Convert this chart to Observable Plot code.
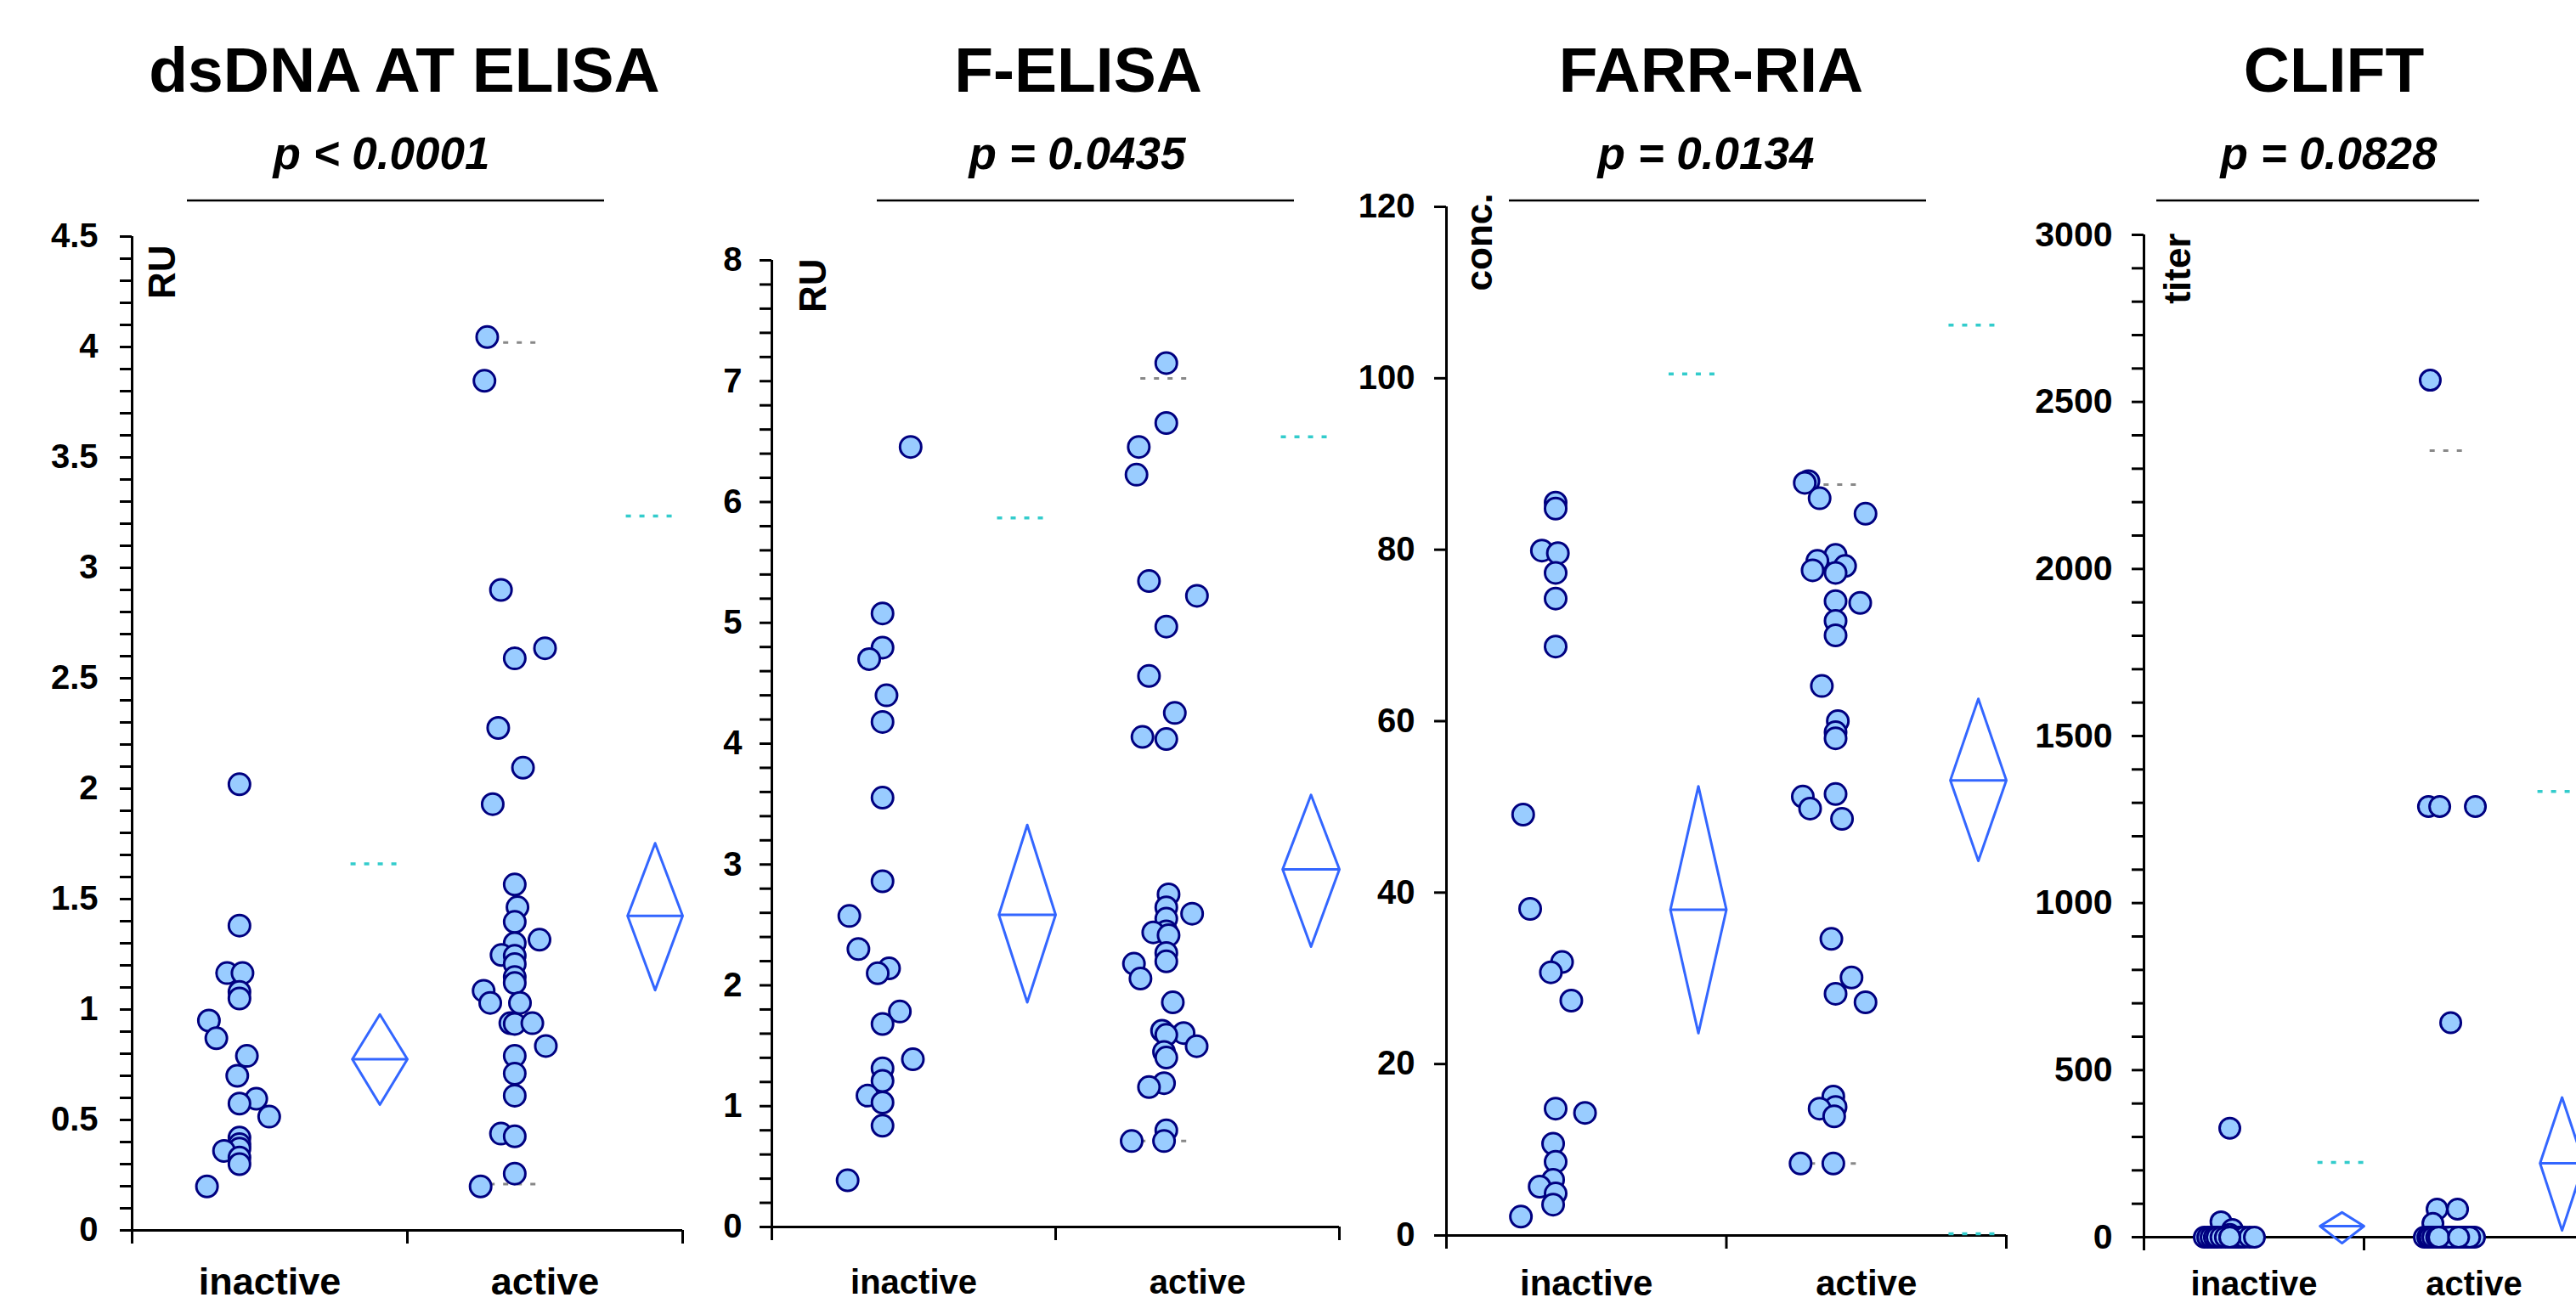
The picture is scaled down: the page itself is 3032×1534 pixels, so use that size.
<!DOCTYPE html>
<html>
<head>
<meta charset="utf-8">
<script src="https://cdn.jsdelivr.net/npm/d3@7"></script>
<script src="https://cdn.jsdelivr.net/npm/@observablehq/plot@0.6"></script>
<style>
html, body { margin: 0; padding: 0; background: #fff; }
body { width: 3032px; height: 1534px; overflow: hidden; position: relative;
       font-family: "Liberation Sans", Arial, Helvetica, sans-serif; }
.panel { position: absolute; top: 0; height: 1534px; }
#overlay { position: absolute; left: 0; top: 0; pointer-events: none; }
</style>
</head>
<body>
<script>
// ---------------- DATA ----------------
const groups = ["inactive", "active"];

const titles = ["dsDNA AT ELISA", "F-ELISA", "FARR-RIA", "CLIFT"];
const pValues = ["p < 0.0001", "p = 0.0435", "p = 0.0134", "p = 0.0828"];
const units = ["RU", "RU", "conc.", "titer"];
const yMax = [4.5, 8, 120, 3000];
const yMajorStep = [0.5, 1, 20, 500];
const yMinorStep = [0.1, 0.2, null, 100];

// dsDNA AT ELISA
const dsdnaInactive = [2.02, 1.38, 1.165, 1.165, 1.08, 1.05, 0.95, 0.87, 0.79, 0.70, 0.596, 0.574, 0.515, 0.42, 0.39, 0.37, 0.36, 0.33, 0.30, 0.199];
const dsdnaInactiveJitter = [0, 0, -0.045, 0.011, 0, 0, -0.111, -0.084, 0.027, -0.008, 0.061, 0, 0.108, 0, 0, 0, -0.056, 0, 0, -0.118];
const dsdnaActive = [4.045, 3.847, 2.90, 2.636, 2.59, 2.275, 2.095, 1.93, 1.566, 1.463, 1.397, 1.316, 1.30, 1.247, 1.243, 1.206, 1.147, 1.12, 1.085, 1.03, 1.03, 0.938, 0.935, 0.938, 0.835, 0.79, 0.71, 0.61, 0.438, 0.426, 0.257, 0.199];
const dsdnaActiveJitter = [-0.10, -0.11, -0.05, 0.11, 0, -0.06, 0.03, -0.08, 0, 0.01, 0, 0.09, 0, -0.048, 0, 0, 0, 0, -0.113, 0.019, -0.089, -0.016, 0, 0.064, 0.113, 0, 0, 0, -0.05, 0, 0, -0.124];
const dsdnaDiamond = [[0.569, 0.775, 0.978], [1.088, 1.424, 1.753]]; // [lower, mean, upper]
const dsdnaCyan = [[1.66], [3.235]];
const dsdnaGray = [[], [4.02, 0.21]];

// F-ELISA
const felisaInactive = [6.456, 5.078, 4.795, 4.70, 4.40, 4.18, 3.553, 2.861, 2.574, 2.30, 2.14, 2.10, 1.783, 1.68, 1.388, 1.313, 1.209, 1.087, 1.03, 0.838, 0.386];
const felisaInactiveJitter = [0.099, 0, 0, -0.047, 0.014, 0, 0, 0, -0.117, -0.085, 0.023, -0.017, 0.061, 0, 0.107, 0, 0, -0.053, 0, 0, -0.123];
const felisaActive = [7.15, 6.654, 6.456, 6.226, 5.346, 5.224, 4.969, 4.56, 4.254, 4.056, 4.038, 2.753, 2.645, 2.593, 2.551, 2.447, 2.438, 2.414, 2.268, 2.198, 2.179, 2.056, 1.859, 1.624, 1.605, 1.59, 1.496, 1.449, 1.402, 1.19, 1.158, 0.80, 0.711, 0.711];
const felisaActiveJitter = [0, 0, -0.097, -0.105, -0.061, 0.108, 0, -0.061, 0.03, -0.084, 0, 0.008, 0, 0.091, 0, 0, -0.046, 0.008, 0, 0, -0.114, -0.091, 0.023, -0.015, 0.061, 0, 0.107, -0.008, 0, -0.008, -0.061, 0, -0.122, -0.008];
const felisaDiamond = [[1.859, 2.584, 3.327], [2.32, 2.96, 3.576]];
const felisaCyan = [[5.868], [6.54]];
const felisaGray = [[], [7.023, 0.711]];

// FARR-RIA
const farrInactive = [85.5, 84.8, 79.9, 79.6, 77.3, 74.3, 68.7, 49.1, 38.1, 31.9, 30.7, 27.4, 14.8, 14.3, 10.7, 8.6, 6.5, 5.7, 4.9, 3.6, 2.2];
const farrInactiveJitter = [0, 0, -0.049, 0.008, 0, 0, 0, -0.116, -0.091, 0.023, -0.017, 0.056, 0, 0.105, -0.009, 0, -0.009, -0.057, 0, -0.009, -0.124];
const farrActive = [88.0, 87.8, 86.0, 84.2, 79.4, 78.7, 78.1, 77.6, 77.3, 74.0, 73.8, 71.7, 70.0, 64.1, 60.0, 58.7, 58.0, 51.5, 51.2, 49.8, 48.6, 34.6, 30.1, 28.2, 27.2, 16.2, 15.0, 14.8, 13.9, 8.4, 8.4];
const farrActiveJitter = [-0.097, -0.11, -0.057, 0.107, 0, -0.065, 0.034, -0.082, 0, 0, 0.088, 0, 0, -0.049, 0.008, 0, 0, 0, -0.117, -0.091, 0.023, -0.015, 0.057, 0, 0.107, -0.008, 0, -0.057, -0.005, -0.125, -0.008];
const farrDiamond = [[23.6, 38.0, 52.4], [43.7, 53.1, 62.6]];
const farrCyan = [[100.5], [106.2, 0.2]];
const farrGray = [[], [87.6, 8.4]];

// CLIFT
const cliftInactive = [326, 46, 23, 8, 0, 0, 0, 0, 0, 0, 0, 0, 0, 0, 0, 0, 0, 0, 0, 0, 0];
const cliftInactiveJitter = [0, -0.04, 0.012, 0, -0.116, -0.1, -0.085, -0.07, -0.058, -0.04, -0.02, 0, 0.01, 0.019, 0.03, 0.04, 0.05, 0.066, 0.09, 0.112, 0];
const cliftActive = [2565, 1289, 1289, 1289, 642, 84, 84, 41, 0, 0, 0, 0, 0, 0, 0, 0, 0, 0, 0, 0, 0, 0, 0, 0, 0, 0, 0, 0, 0, 0, 0];
const cliftActiveJitter = [-0.089, -0.097, -0.046, 0.116, 0.004, -0.058, 0.035, -0.077, -0.116, -0.1, -0.09, -0.077, -0.06, -0.039, -0.02, 0, 0.012, 0.02, 0.03, 0.045, 0.05, 0.066, 0.08, 0.1, 0.112, -0.03, 0.0, 0.06, -0.05, 0.09, 0.04];
const cliftDiamond = [[-18, 33, 74], [20, 221, 418]];
const cliftCyan = [[224], [1334]];
const cliftGray = [[], [2354]];

// ---------------- ASSEMBLY ----------------
const panelData = [
  {values: [dsdnaInactive, dsdnaActive], jitter: [dsdnaInactiveJitter, dsdnaActiveJitter], diamond: dsdnaDiamond, cyan: dsdnaCyan, gray: dsdnaGray},
  {values: [felisaInactive, felisaActive], jitter: [felisaInactiveJitter, felisaActiveJitter], diamond: felisaDiamond, cyan: felisaCyan, gray: felisaGray},
  {values: [farrInactive, farrActive], jitter: [farrInactiveJitter, farrActiveJitter], diamond: farrDiamond, cyan: farrCyan, gray: farrGray},
  {values: [cliftInactive, cliftActive], jitter: [cliftInactiveJitter, cliftActiveJitter], diamond: cliftDiamond, cyan: cliftCyan, gray: cliftGray}
];

// layout (pixels) per panel
const layouts = [
  {left: 0,    width: 840, mL: 155, mR: 37, mT: 278, mB: 86, tickPad: 26, tickFont: 40, catFont: 45, catPad: 44, unitDx: 19, unitDy: 10,  r: 12.5, cyanX: [0.795, 0.985]},
  {left: 840,  width: 750, mL: 68,  mR: 14, mT: 306, mB: 90, tickPad: 21, tickFont: 40, catFont: 40, catPad: 50, unitDx: 32, unitDy: -2,  r: 12.5, cyanX: [0.795, 0.985]},
  {left: 1590, width: 790, mL: 112, mR: 19, mT: 243, mB: 80, tickPad: 23, tickFont: 40, catFont: 42, catPad: 41, unitDx: 22, unitDy: -16, r: 12.5, cyanX: [0.795, 0.985]},
  {left: 2380, width: 700, mL: 143, mR: 39, mT: 276, mB: 78, tickPad: 23, tickFont: 41, catFont: 40, catPad: 40, unitDx: 23, unitDy: -2,  r: 12,   cyanX: [0.79, 1.0]}
];

const DOT_COL = 0.39;   // dots column position within each category band
const DIA_COL = 0.9;    // diamond position within each category band
const DIA_HALF = 0.1;
const FONT = "'Liberation Sans', Arial, Helvetica, sans-serif";

function fmtTick(d) {
  return String(+(+d).toFixed(1));
}

function buildPanel(k) {
  const D = panelData[k], L = layouts[k];
  const max = yMax[k];
  const pts = [];
  D.values.forEach((arr, g) => arr.forEach((v, i) => pts.push({g, v, j: D.jitter[g][i]})));
  const dia = [];
  const means = [];
  D.diamond.forEach(([lo, m, hi], g) => {
    const c = g + DIA_COL;
    dia.push({g, x: c - DIA_HALF, y: m}, {g, x: c, y: hi}, {g, x: c + DIA_HALF, y: m}, {g, x: c, y: lo}, {g, x: c - DIA_HALF, y: m});
    means.push({g, v: m});
  });
  const cyan = [];
  D.cyan.forEach((arr, g) => arr.forEach(v => cyan.push({g, v})));
  const gray = [];
  D.gray.forEach((arr, g) => arr.forEach(v => gray.push({g, v})));

  const major = d3.range(0, max + 1e-9, yMajorStep[k]);
  const minor = yMinorStep[k] ? d3.range(0, max + 1e-9, yMinorStep[k])
      .filter(t => !major.some(m => Math.abs(m - t) < 1e-6)) : [];

  return Plot.plot({
    width: L.width,
    height: 1534,
    marginLeft: L.mL, marginRight: L.mR, marginTop: L.mT, marginBottom: L.mB,
    x: {domain: [0, 2], axis: null},
    y: {domain: [0, max], axis: null},
    style: {fontFamily: FONT, background: "transparent", overflow: "visible", maxWidth: "none", color: "#000"},
    marks: [
      Plot.axisY({ticks: minor, tickFormat: () => "", tickSize: 14, strokeWidth: 3, label: null}),
      Plot.axisY({ticks: major, tickFormat: k === 3 ? d3.format("d") : fmtTick, tickSize: 14, tickPadding: L.tickPad,
                  strokeWidth: 3, fontSize: L.tickFont, fontWeight: "bold", label: null}),
      Plot.axisX({ticks: [0, 1, 2], tickFormat: () => "", tickSize: 16, strokeWidth: 3, label: null}),
      Plot.axisX({ticks: [0.5, 1.5], tickFormat: d => groups[Math.floor(d)], tickSize: 0, tickPadding: L.catPad,
                  fontSize: L.catFont, fontWeight: "bold", label: null}),
      Plot.ruleX([0], {y1: 0, y2: max, strokeWidth: 3, stroke: "#000"}),
      Plot.ruleY([0], {x1: 0, x2: 2, strokeWidth: 3, stroke: "#000"}),
      Plot.text([units[k]], {text: d => d, frameAnchor: "top-left", rotate: -90, textAnchor: "end", lineAnchor: "top",
                  dx: L.unitDx, dy: L.unitDy, fontSize: 44, fontWeight: "bold", fill: "#000"}),
      Plot.ruleY(cyan, {y: "v", x1: d => d.g + L.cyanX[0], x2: d => d.g + L.cyanX[1],
                  stroke: "#33cccc", strokeWidth: 3.5, strokeDasharray: "6,10"}),
      Plot.ruleY(gray, {y: "v", x1: d => d.g + DOT_COL - 0.09, x2: d => d.g + DOT_COL + 0.09,
                  stroke: "#888888", strokeWidth: 3, strokeDasharray: "6,10"}),
      Plot.line(dia, {x: "x", y: "y", z: "g", stroke: "#3366ff", strokeWidth: 3, curve: "linear"}),
      Plot.ruleY(means, {y: "v", x1: d => d.g + DIA_COL - DIA_HALF, x2: d => d.g + DIA_COL + DIA_HALF,
                  stroke: "#3366ff", strokeWidth: 3}),
      Plot.dot(pts, {x: d => d.g + DOT_COL + d.j, y: "v", r: L.r, fill: "#99ccff", stroke: "#000080", strokeWidth: 3})
    ]
  });
}

for (let k = 0; k < 4; k++) {
  const div = document.createElement("div");
  div.className = "panel";
  div.style.left = layouts[k].left + "px";
  div.style.width = layouts[k].width + "px";
  div.appendChild(buildPanel(k));
  document.body.appendChild(div);
}

// ---------------- titles, p-values, rules ----------------
const titleX = [476, 1269, 2014, 2747];
const pX = [449, 1268, 2008, 2741];
const ruleSpan = [[220, 711], [1032, 1523], [1776, 2267], [2538, 2918]];

const ov = d3.select("body").append("svg").attr("id", "overlay")
  .attr("width", 3032).attr("height", 1534)
  .style("font-family", FONT);

titles.forEach((t, k) => {
  ov.append("text").attr("x", titleX[k]).attr("y", 108).attr("text-anchor", "middle")
    .attr("font-size", 75).attr("font-weight", "bold").attr("fill", "#000").text(t);
  ov.append("text").attr("x", pX[k]).attr("y", 199).attr("text-anchor", "middle")
    .attr("font-size", 53).attr("font-weight", "bold").attr("font-style", "italic").attr("fill", "#000").text(pValues[k]);
  ov.append("line").attr("x1", ruleSpan[k][0]).attr("x2", ruleSpan[k][1]).attr("y1", 236).attr("y2", 236)
    .attr("stroke", "#000").attr("stroke-width", 2.5);
});
</script>
</body>
</html>
